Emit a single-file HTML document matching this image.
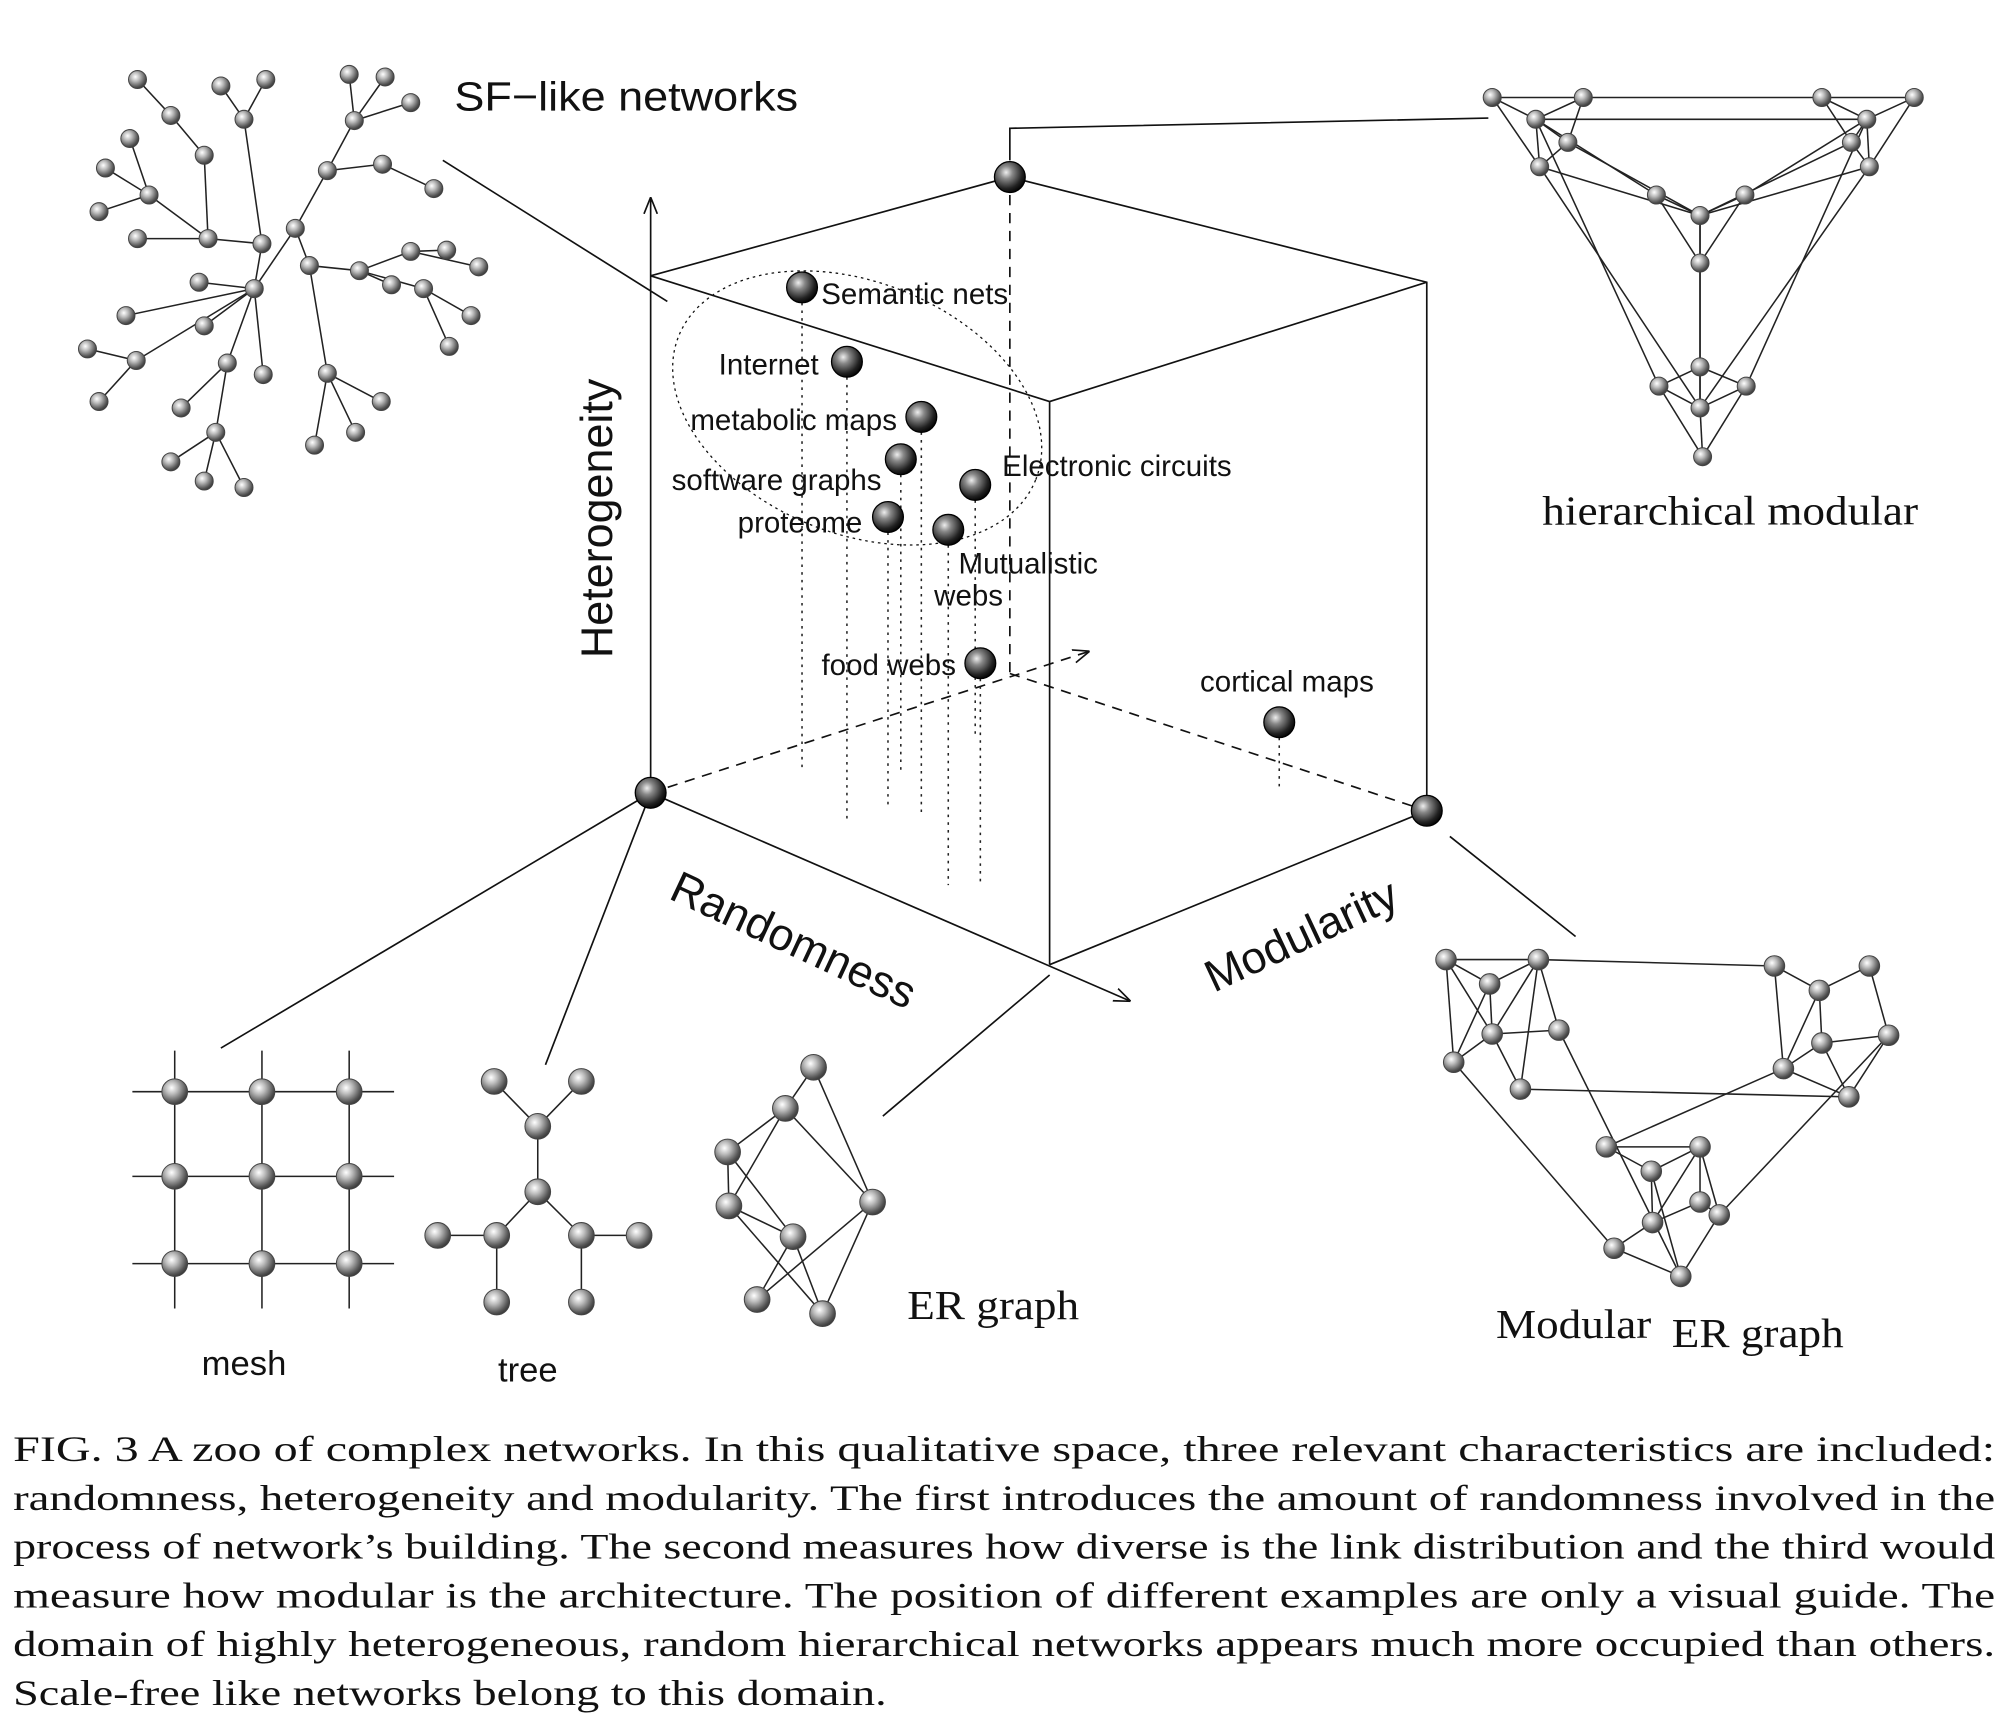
<!DOCTYPE html>
<html><head><meta charset="utf-8"><style>
html,body{margin:0;padding:0;background:#fff}
svg{display:block}
.s{font-family:"Liberation Sans",sans-serif;fill:#111}
.r{font-family:"Liberation Serif",serif;fill:#111}
</style></head><body>
<svg id="fig" width="2012" height="1728" viewBox="0 0 1568 1347" xmlns="http://www.w3.org/2000/svg">
<defs>
<radialGradient id="ball" cx="0.38" cy="0.35" r="0.7">
<stop offset="0" stop-color="#fff"/><stop offset="0.35" stop-color="#bbb"/><stop offset="0.8" stop-color="#555"/><stop offset="1" stop-color="#333"/>
</radialGradient>
<radialGradient id="dball" cx="0.38" cy="0.35" r="0.7">
<stop offset="0" stop-color="#eee"/><stop offset="0.3" stop-color="#888"/><stop offset="0.75" stop-color="#222"/><stop offset="1" stop-color="#000"/>
</radialGradient>
<marker id="arr" viewBox="0 0 10 10" refX="9" refY="5" markerWidth="10" markerHeight="10" orient="auto"><path d="M0,1 L10,5 L0,9" fill="none" stroke="#111" stroke-width="1"/></marker>
</defs>
<g id="edges" stroke="#222" stroke-width="1.2" fill="none"></g>
<g id="cube" stroke="#111" stroke-width="1.3" fill="none">
<line x1="507" y1="618" x2="507" y2="155" marker-end="url(#arr)"/>
<polyline points="507,215 787,138 1112,220 1112,632"/>
<line x1="507" y1="215" x2="818" y2="313"/>
<line x1="818" y1="313" x2="1112" y2="220"/>
<line x1="818" y1="313" x2="818" y2="752"/>
<line x1="818" y1="752" x2="1112" y2="632"/>
<line x1="507" y1="618" x2="880" y2="780" marker-end="url(#arr)"/>
<line x1="507" y1="618" x2="848" y2="508" stroke-dasharray="8,6" marker-end="url(#arr)"/>
<line x1="787" y1="138" x2="787" y2="525" stroke-dasharray="8,6"/>
<line x1="787" y1="525" x2="1112" y2="632" stroke-dasharray="8,6"/>
<ellipse cx="668" cy="318" rx="150" ry="98" transform="rotate(22 668 318)" stroke-dasharray="2,3" stroke-width="1"/>
<line x1="345" y1="125" x2="520" y2="235"/>
<polyline points="787,125 787,100 1160,92"/>
<line x1="1130" y1="652" x2="1228" y2="730"/>
<line x1="507" y1="618" x2="172" y2="817"/>
<line x1="507" y1="618" x2="425" y2="830"/>
<line x1="818" y1="760" x2="688" y2="870"/>
</g>
<g id="drops" stroke="#222" stroke-width="1.2" stroke-dasharray="2,4"></g>
<g id="nodes"></g>
<g id="pts"></g>
<text class="s" x="354" y="86" font-size="32" textLength="268" lengthAdjust="spacingAndGlyphs">SF−like networks</text>
<text class="r" x="1202" y="409" font-size="32" textLength="293" lengthAdjust="spacingAndGlyphs">hierarchical modular</text>
<text class="s" x="157" y="1072" font-size="27">mesh</text>
<text class="s" x="388" y="1077" font-size="27">tree</text>
<text class="r" x="707" y="1028" font-size="32" textLength="134" lengthAdjust="spacingAndGlyphs">ER graph</text>
<text class="r" x="1166" y="1043" font-size="32" textLength="121" lengthAdjust="spacingAndGlyphs">Modular</text>
<text class="r" x="1303" y="1050" font-size="32" textLength="134" lengthAdjust="spacingAndGlyphs">ER graph</text>
<text class="s" font-size="35" transform="translate(477,513) rotate(-90)">Heterogeneity</text>
<text class="s" font-size="35" transform="translate(520,700) rotate(25)">Randomness</text>
<text class="s" font-size="35" transform="translate(946,774) rotate(-25)">Modularity</text>
<g class="r" font-size="28">
<text x="10" y="1139" textLength="1545" lengthAdjust="spacingAndGlyphs">FIG. 3  A zoo of complex networks.  In this qualitative space, three relevant characteristics are included:</text>
<text x="10" y="1177" textLength="1545" lengthAdjust="spacingAndGlyphs">randomness, heterogeneity and modularity.  The first introduces the amount of randomness involved in the</text>
<text x="10" y="1215" textLength="1545" lengthAdjust="spacingAndGlyphs">process of network’s building.  The second measures how diverse is the link distribution and the third would</text>
<text x="10" y="1253" textLength="1545" lengthAdjust="spacingAndGlyphs">measure how modular is the architecture.  The position of different examples are only a visual guide.  The</text>
<text x="10" y="1291" textLength="1545" lengthAdjust="spacingAndGlyphs">domain of highly heterogeneous, random hierarchical networks appears much more occupied than others.</text>
<text x="10" y="1329" textLength="681" lengthAdjust="spacingAndGlyphs">Scale-free like networks belong to this domain.</text>
</g>
</svg>
<script>
const pointLabels=["Semantic nets","Internet","metabolic maps","software graphs","proteome","Electronic circuits","Mutualistic","food webs","cortical maps"];
const pointX=[625,660,718,702,692,760,739,764,997];
const pointY=[224,282,325,358,403,378,413,517,563];
const dropEnd=[600,640,635,600,630,575,690,690,615];
const NS="http://www.w3.org/2000/svg";
function mk(tag,attrs,parent){const e=document.createElementNS(NS,tag);for(const k in attrs)e.setAttribute(k,attrs[k]);parent.appendChild(e);return e;}
const E=document.getElementById('edges'),N=document.getElementById('nodes'),P=document.getElementById('pts'),D=document.getElementById('drops');
function net(name,nodes,edges,r){
  const g=mk('g',{},E);
  
  
  edges.forEach(([a,b])=>mk('line',{x1:nodes[a][0],y1:nodes[a][1],x2:nodes[b][0],y2:nodes[b][1]},g));
  const h=mk('g',{stroke:'#444','stroke-width':0.8},N);
  
  
  nodes.forEach(n=>mk('circle',{cx:n[0],cy:n[1],r:r,fill:'url(#ball)'},h));
}
const sf=[[198,225],[230,178],[241,207],[204,190],[162,186],[155,220],[280,211],[255,133],[298,128],[276,94],[272,58],[300,60],[320,80],[190,93],[172,67],[207,62],[159,121],[133,90],[107,62],[101,108],[116,152],[82,131],[77,165],[107,186],[98,246],[68,272],[106,281],[77,313],[159,254],[177,283],[141,318],[168,337],[133,360],[159,375],[190,380],[205,292],[255,291],[245,347],[277,337],[297,313],[320,196],[348,195],[373,208],[305,222],[330,225],[350,270],[367,246],[338,147]];
const sfp=[-1,0,1,0,3,0,2,1,7,7,9,9,9,3,13,13,4,16,17,20,4,20,20,4,0,26,0,26,0,0,29,29,31,31,31,0,2,36,36,36,6,40,40,6,6,44,44,8];
net('sf-like-network',sf,sfp.map((p,i)=>[p,i]).filter(e=>e[0]>=0),7);
const hm=[[1163,76],[1197,93],[1234,76],[1200,130],[1222,111],[1420,76],[1455,93],[1492,76],[1457,130],[1443,111],[1293,301],[1325,318],[1361,301],[1325,286],[1327,356],[1291,152],[1325,168],[1360,152],[1325,205]];
const hme=[[0,1],[0,2],[1,2],[0,3],[1,3],[1,4],[2,4],[3,4],[5,6],[5,7],[6,7],[6,8],[8,9],[6,9],[5,9],[7,8],[10,11],[11,12],[10,13],[12,13],[11,13],[10,14],[11,14],[12,14],[15,16],[16,17],[15,18],[16,18],[17,18],[1,15],[4,16],[3,16],[6,17],[9,16],[8,16],[13,18],[11,16],[1,10],[3,11],[6,12],[8,11],[1,6],[2,5]];
net('hierarchical-modular-network',hm,hme,7);
const mg=mk('g',{},E);
[851,917,985].forEach(y=>mk('line',{x1:103,y1:y,x2:307,y2:y},mg));
[136,204,272].forEach(x=>mk('line',{x1:x,y1:819,x2:x,y2:1020},mg));
const mesh=[];[851,917,985].forEach(y=>[136,204,272].forEach(x=>mesh.push([x,y])));
net('mesh-network',mesh,[],10);
const tr=[[385,843],[453,843],[419,878],[419,929],[387,963],[453,963],[341,963],[498,963],[387,1015],[453,1015]];
net('tree-network',tr,[[0,2],[1,2],[2,3],[3,4],[3,5],[6,4],[5,7],[4,8],[5,9]],10);
const er=[[634,832],[612,864],[567,898],[568,940],[618,964],[680,937],[590,1013],[641,1024]];
net('er-network',er,[[0,1],[0,5],[1,2],[1,3],[2,4],[3,4],[2,3],[3,7],[4,6],[4,7],[5,6],[5,7],[1,5]],10);
const me=[[1127,748],[1161,767],[1199,748],[1163,806],[1215,803],[1133,828],[1185,849],[1383,753],[1418,772],[1457,753],[1472,807],[1420,813],[1390,833],[1441,855],[1252,894],[1287,913],[1325,894],[1340,947],[1288,953],[1258,973],[1310,995],[1325,937]];
const mee=[[0,1],[0,2],[1,2],[1,3],[0,3],[2,3],[3,4],[2,4],[0,5],[3,5],[1,5],[3,6],[2,6],[7,8],[8,9],[8,11],[9,10],[10,11],[11,12],[7,12],[11,13],[10,13],[12,13],[8,12],[14,15],[15,16],[16,17],[15,18],[16,18],[18,19],[19,20],[15,20],[18,21],[21,17],[16,21],[17,20],[14,16],[2,7],[6,13],[5,19],[14,12],[4,20],[17,10]];
net('modular-er-network',me,mee,8);
const off=[[15,13,'start'],[-22,10,'end'],[-19,10,'end'],[-15,24,'end'],[-20,12,'end'],[21,-7,'start'],[8,34,'start'],[-19,9,'end'],[6,-24,'middle']];
pointLabels.forEach((l,i)=>{
  const x=pointX[i],y=pointY[i];
  const d=mk('line',{x1:x,y1:y+12,x2:x,y2:dropEnd[i]},D);
  
  
  const c=mk('circle',{cx:x,cy:y,r:12,fill:'url(#dball)',stroke:'#000','stroke-width':1},P);
  
  
  const t=mk('text',{x:x+off[i][0],y:y+off[i][1],'text-anchor':off[i][2],'font-size':23,class:'s'},P);
  t.textContent=l;
  
  
});
const w=mk('text',{x:728,y:472,'font-size':23,class:'s'},P);w.textContent='webs';


[[787,138],[507,618],[1112,632]].forEach(p=>{const c=mk('circle',{cx:p[0],cy:p[1],r:12,fill:'url(#dball)',stroke:'#000'},P);

});
</script>
</body></html>
